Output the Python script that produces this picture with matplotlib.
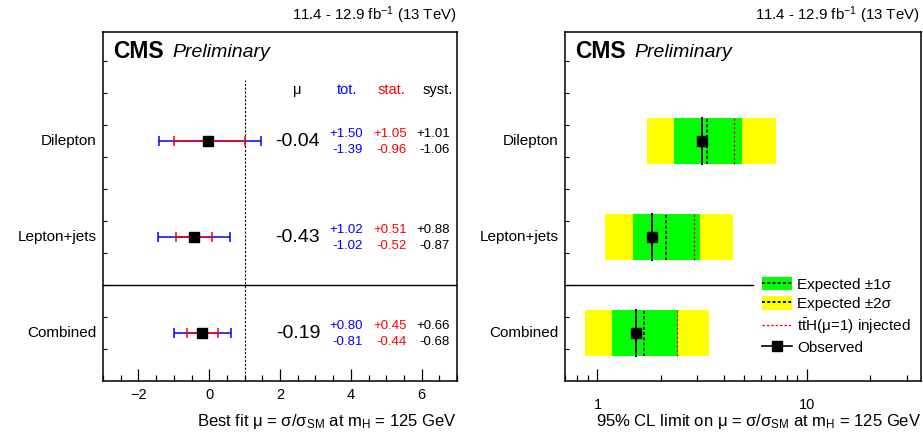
import matplotlib
matplotlib.use("Agg")
import matplotlib.pyplot as plt
import matplotlib.ticker as ticker
from matplotlib.patches import Patch
from matplotlib.lines import Line2D
from matplotlib.transforms import blended_transform_factory

plt.rcParams['font.family'] = ['Liberation Sans', 'DejaVu Sans']
plt.rcParams['mathtext.fontset'] = 'custom'
plt.rcParams['mathtext.rm'] = 'Liberation Sans'
plt.rcParams['mathtext.it'] = 'Liberation Sans:italic'
plt.rcParams['mathtext.bf'] = 'Liberation Sans:bold'

# channels, top to bottom
channels = ['Dilepton', 'Lepton+jets', 'Combined']
row_y = [2.5, 1.5, 0.5]

# best fit signal strength and uncertainties
mu = [-0.04, -0.43, -0.19]
tot_up = [1.50, 1.02, 0.80]
tot_dn = [1.39, 1.02, 0.81]
stat_up = [1.05, 0.51, 0.45]
stat_dn = [0.96, 0.52, 0.44]
syst_up = [1.01, 0.88, 0.66]
syst_dn = [1.06, 0.87, 0.68]

# 95% CL upper limits
obs_lim = [3.17, 1.83, 1.52]
exp_lim = [3.35, 2.12, 1.66]
inj_lim = [4.49, 2.89, 2.40]
exp_m1 = [2.31, 1.48, 1.17]
exp_p1 = [4.92, 3.10, 2.41]
exp_m2 = [1.72, 1.09, 0.87]
exp_p2 = [7.11, 4.44, 3.39]

lumi_text = '11.4 - 12.9 fb$^{-1}$ (13 TeV)'

fig = plt.figure(figsize=(9.23, 4.36), dpi=100)
ax1 = fig.add_axes([103/923, 55/436, 354/923, 349/436])
ax2 = fig.add_axes([565/923, 55/436, 356/923, 349/436])

for ax in (ax1, ax2):
    for s in ax.spines.values():
        s.set_linewidth(1.1)
    ax.set_ylim(0, 3.64)
    ax.set_yticks([k/3 for k in range(1, 11)])
    ax.set_yticklabels([])
    ax.tick_params(axis='y', direction='in', length=3, width=0.8, left=True, right=False)
    ax.tick_params(axis='x', which='major', direction='in', length=9, width=0.9, top=False, labelsize=10.5)
    ax.tick_params(axis='x', which='minor', direction='in', length=4.5, width=0.9, top=False)
    ax.text(0.028, 0.943, 'CMS', transform=ax.transAxes, fontsize=16.5, fontweight='bold', va='center')
    ax.text(0.195, 0.94, 'Preliminary', transform=ax.transAxes, fontsize=14, style='italic', va='center')
    for i, name in enumerate(channels):
        ax.text(-0.018, row_y[i], name, transform=blended_transform_factory(ax.transAxes, ax.transData),
                ha='right', va='center', fontsize=11)

# ---- left panel: best fit mu
ax1.set_xlim(-3, 7)
ax1.xaxis.set_major_locator(ticker.MultipleLocator(2))
ax1.xaxis.set_minor_locator(ticker.MultipleLocator(0.5))
ax1.tick_params(axis='x', which='major', pad=5)
ax1.axhline(1.0, color='black', lw=1.0)
ax1.plot([1, 1], [0, 3.14], color='black', lw=0.8, ls=(0, (2, 1.5)))

for i in range(len(channels)):
    ax1.errorbar(mu[i], row_y[i], xerr=[[tot_dn[i]], [tot_up[i]]], fmt='none', ecolor='blue',
                 elinewidth=1.1, capsize=3.3, capthick=1.1)
    ax1.errorbar(mu[i], row_y[i], xerr=[[stat_dn[i]], [stat_up[i]]], fmt='none', ecolor='red',
                 elinewidth=1.1, capsize=3.3, capthick=1.1)
    ax1.plot(mu[i], row_y[i], 's', color='black', markersize=6.5)

tr = blended_transform_factory(ax1.transAxes, ax1.transData)
ax1.text(0.548, 3.03, 'μ', transform=tr, ha='center', va='center', fontsize=10.5)
ax1.text(0.689, 3.03, 'tot.', transform=tr, ha='center', va='center', fontsize=10.5, color='blue')
ax1.text(0.814, 3.03, 'stat.', transform=tr, ha='center', va='center', fontsize=10.5, color='red')
ax1.text(0.946, 3.03, 'syst.', transform=tr, ha='center', va='center', fontsize=10.5, color='black')
for i in range(len(channels)):
    y = row_y[i]
    ax1.text(0.613, y, '%.2f' % mu[i], transform=tr, ha='right', va='center', fontsize=14)
    cols = [(0.734, tot_up, tot_dn, 'blue'), (0.859, stat_up, stat_dn, 'red'),
            (0.980, syst_up, syst_dn, 'black')]
    for xc, up, dn, c in cols:
        ax1.text(xc, y + 0.075, '+%.2f' % up[i], transform=tr, ha='right', va='center', fontsize=9.5, color=c)
        ax1.text(xc, y - 0.09, '-%.2f' % dn[i], transform=tr, ha='right', va='center', fontsize=9.5, color=c)

ax1.set_xlabel('Best fit μ = σ/σ$_{\\rm SM}$ at m$_{\\rm H}$ = 125 GeV', fontsize=12, ha='right')
ax1.xaxis.set_label_coords(1.0, -0.09)

# ---- right panel: limits
ax2.set_xscale('log')
ax2.set_xlim(0.7, 35)
ax2.xaxis.set_major_locator(ticker.LogLocator(base=10))
ax2.xaxis.set_minor_locator(ticker.LogLocator(base=10, subs=[2, 3, 4, 5, 6, 7, 8, 9]))
ax2.xaxis.set_major_formatter(ticker.FuncFormatter(lambda v, p: '%g' % v))
ax2.xaxis.set_minor_formatter(ticker.NullFormatter())
ax2.tick_params(axis='x', which='major', pad=12)
ax2.axhline(1.0, xmin=0, xmax=0.528, color='black', lw=1.0)

h = 0.24
for i in range(len(channels)):
    y = row_y[i]
    ax2.barh(y, exp_p2[i] - exp_m2[i], left=exp_m2[i], height=2*h, color='yellow', lw=0)
    ax2.barh(y, exp_p1[i] - exp_m1[i], left=exp_m1[i], height=2*h, color='#00ff00', lw=0)
    ax2.plot([exp_lim[i]] * 2, [y - h, y + h], color='black', lw=1.4, ls=(0, (1.5, 1.2)))
    ax2.plot([inj_lim[i]] * 2, [y - h, y + h], color='red', lw=0.9, ls=(0, (2, 1.5)))
    ax2.plot([obs_lim[i]] * 2, [y - h, y + h], color='black', lw=1.4)
    ax2.plot(obs_lim[i], y, 's', color='black', markersize=6.8)

handles = [
    (Patch(facecolor='#00ff00', edgecolor='none'), Line2D([], [], color='black', lw=1.4, ls=(0, (1.5, 1.2)))),
    (Patch(facecolor='yellow', edgecolor='none'), Line2D([], [], color='black', lw=1.4, ls=(0, (1.5, 1.2)))),
    Line2D([], [], color='red', lw=0.9, ls=(0, (2, 1.5))),
    Line2D([], [], color='black', lw=1.2, marker='s', markersize=6.8),
]
labels = ['Expected ±1σ', 'Expected ±2σ', r't$\bar{\rm t}$H(μ=1) injected', 'Observed']
ax2.legend(handles, labels, loc='upper left', bbox_to_anchor=(0.553, 0.298), frameon=False,
           fontsize=11, handlelength=1.95, handleheight=0.95, handletextpad=0.35,
           labelspacing=0.3, borderpad=0, borderaxespad=0)

ax2.set_xlabel('95% CL limit on μ = σ/σ$_{\\rm SM}$ at m$_{\\rm H}$ = 125 GeV', fontsize=12, ha='right')
ax2.xaxis.set_label_coords(1.0, -0.09)

fig.text(457/923, 1 - 15/436, lumi_text, ha='right', va='center', fontsize=10.8)
fig.text(920/923, 1 - 15/436, lumi_text, ha='right', va='center', fontsize=10.8)

fig.savefig('out.png', dpi=100)
